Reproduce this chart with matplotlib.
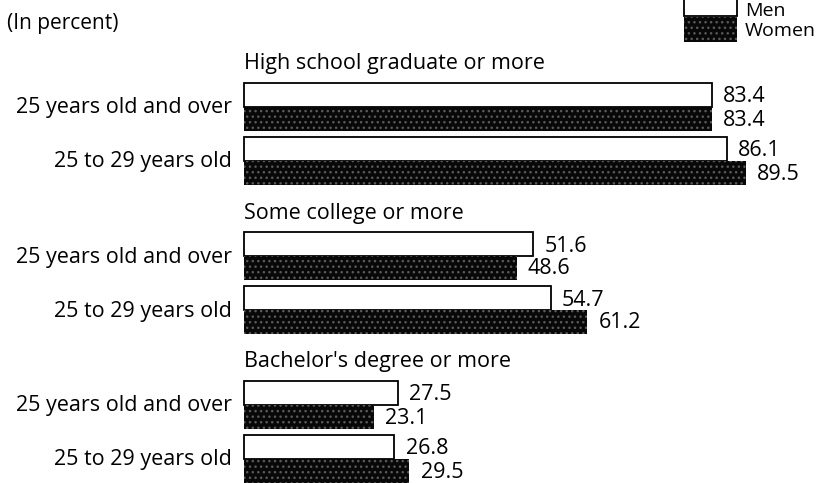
import matplotlib
matplotlib.use('Agg')
import matplotlib.pyplot as plt

# Data
groups = ["High school graduate or more", "Some college or more", "Bachelor's degree or more"]
ages = ["25 years old and over", "25 to 29 years old"]
men = [[83.4, 86.1], [51.6, 54.7], [27.5, 26.8]]
women = [[83.4, 89.5], [48.6, 61.2], [23.1, 29.5]]

plt.rcParams['font.family'] = ['Open Sans', 'DejaVu Sans']

W, H = 821, 483
fig = plt.figure(figsize=(W / 100, H / 100), dpi=100)
ax = fig.add_axes([0, 0, 1, 1])
# pixel-like y axis, percent x axis: 0 sits at x=244px, 5.61 px per percent
x0, k = 244, 5.61
ax.set_xlim(-x0 / k, (W - x0) / k)
ax.set_ylim(H, 0)
ax.axis('off')

fs = 15.5
bar_h = 24
grp_top, grp_step, pair_step = 83, 149, 54
women_style = dict(color='#080808', edgecolor='#5a5a5a', hatch='...', linewidth=0)

for g, name in enumerate(groups):
    top = grp_top + g * grp_step
    ax.text(0, top - 19, name, fontsize=fs, va='center', ha='left')
    for a, age in enumerate(ages):
        ym = top + a * pair_step + bar_h / 2
        yw = ym + bar_h
        m, w = men[g][a], women[g][a]
        ax.barh(ym, m, height=bar_h, color='white', edgecolor='black', linewidth=1.3)
        ax.barh(yw, w, height=bar_h, **women_style)
        ax.text(m + 2.0, ym + 2, f"{m:.1f}", fontsize=fs, va='center', ha='left')
        ax.text(w + 2.0, yw + 1, f"{w:.1f}", fontsize=fs, va='center', ha='left')
        ax.text(-12 / k, (ym + yw) / 2 + 1, age, fontsize=fs, va='center', ha='right')

ax.text(-237 / k, 23, "(In percent)", fontsize=15, va='center', ha='left')

# legend boxes
lx = (684 - x0) / k
lw = 53 / k
ax.barh(4, lw, left=lx, height=24, color='white', edgecolor='black', linewidth=1.3)
ax.barh(29.5, lw, left=lx, height=25, **women_style)
ax.text((745 - x0) / k, 11, "Men", fontsize=14, va='center', ha='left')
ax.text((745 - x0) / k, 31, "Women", fontsize=14, va='center', ha='left')

fig.savefig('out.png', dpi=100)
